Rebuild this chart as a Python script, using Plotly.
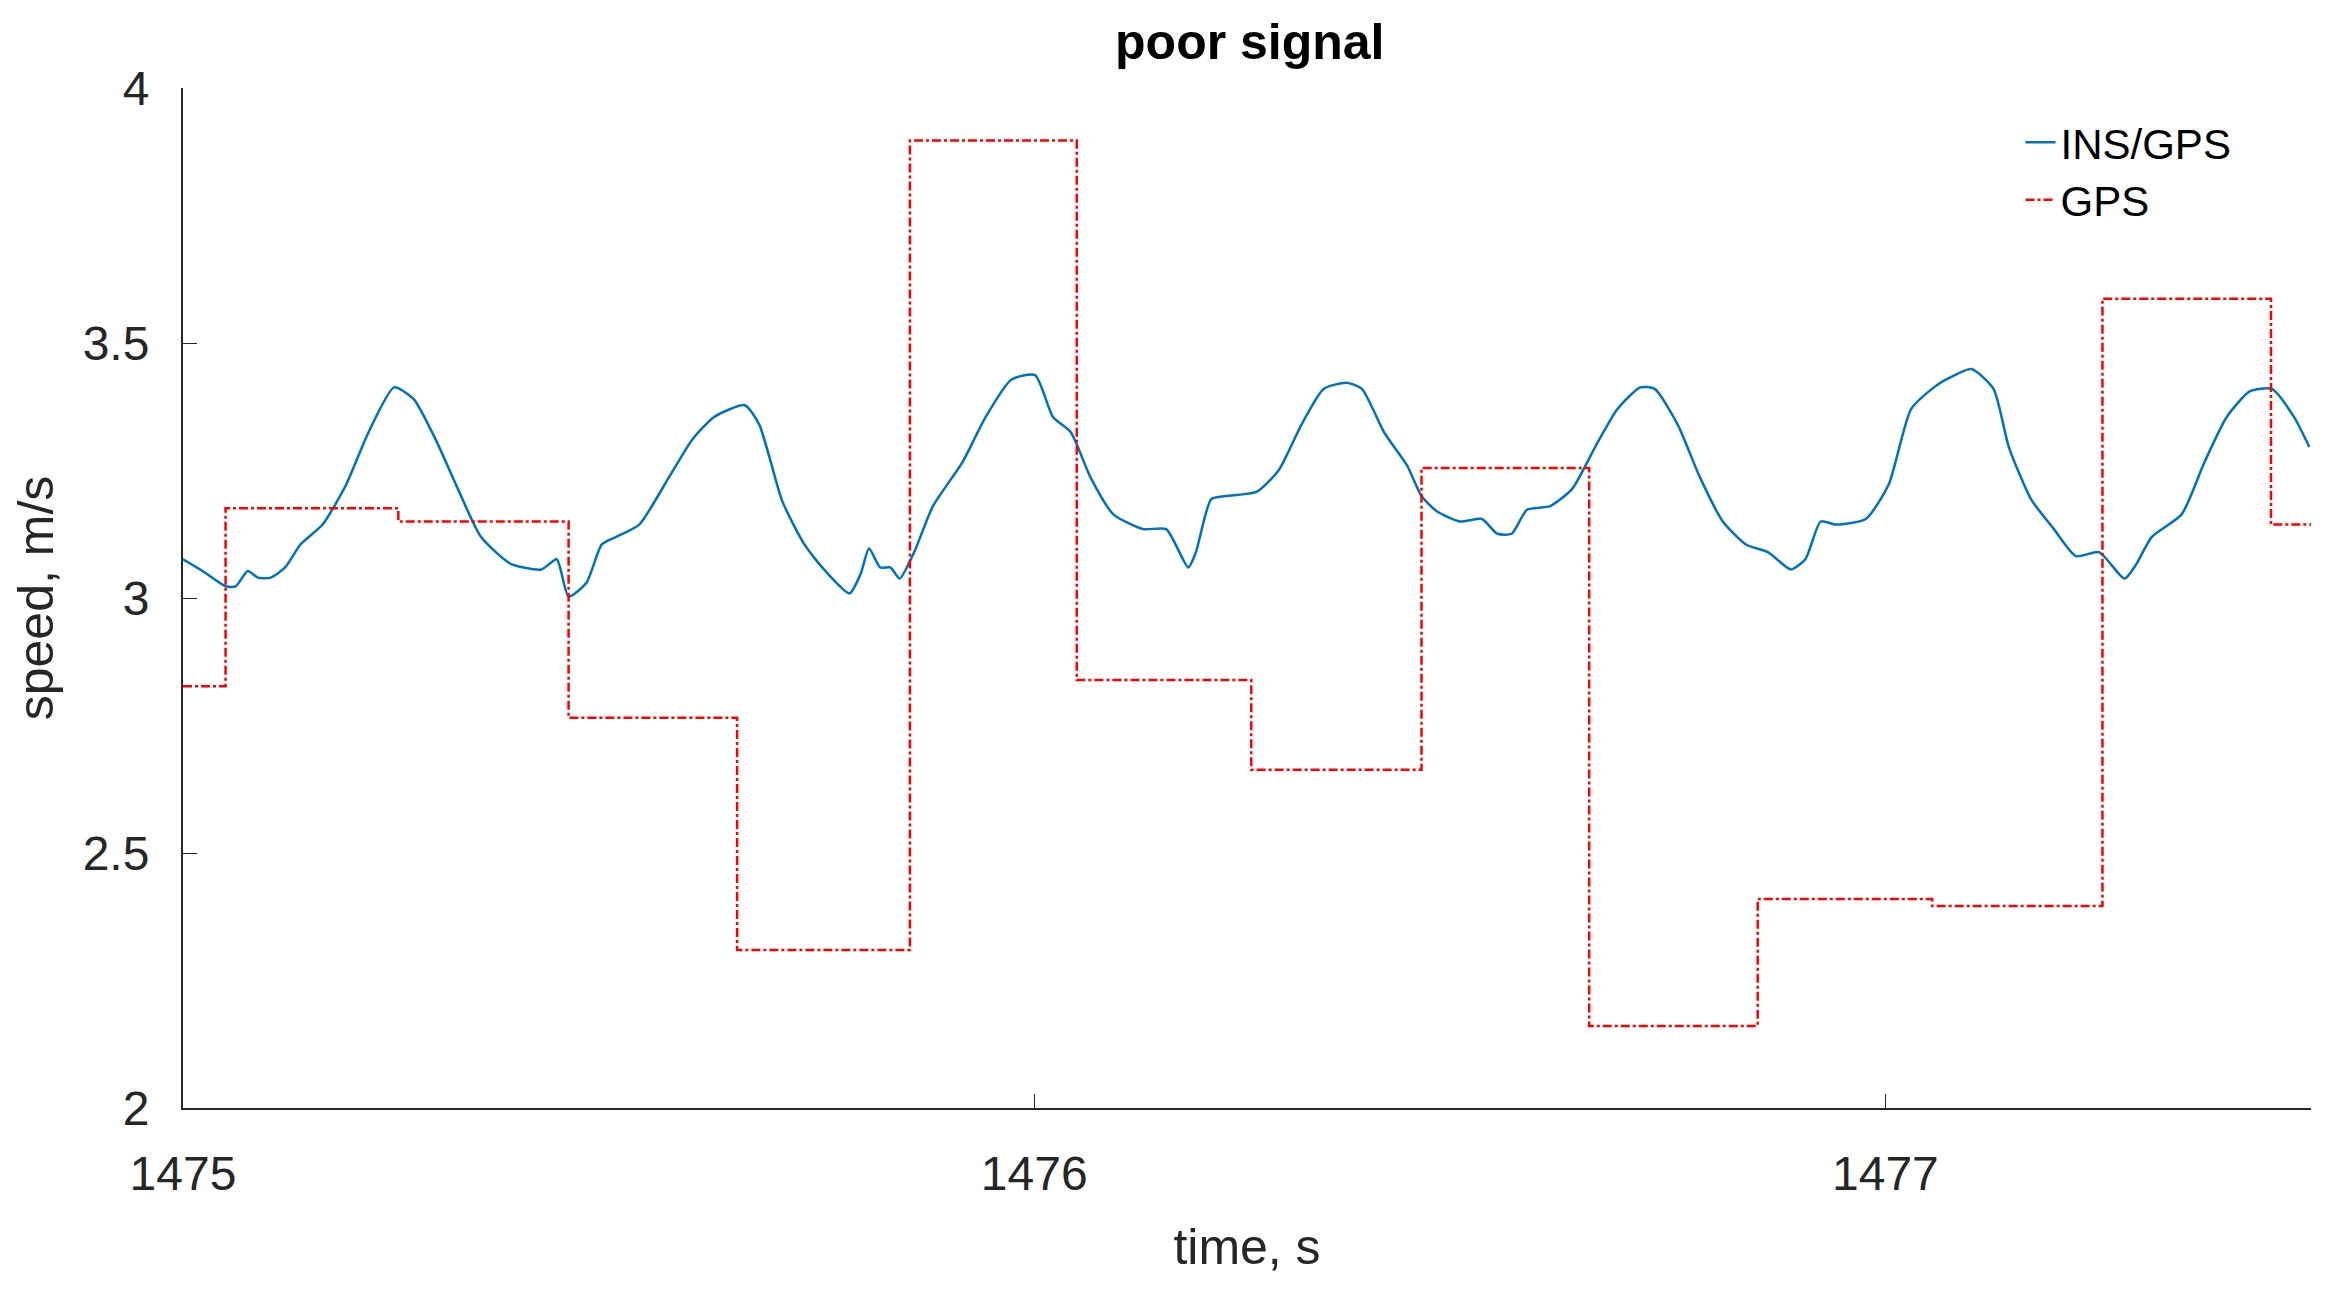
import plotly.graph_objects as go

t0 = 1475
ins_t = [0, .023, .050, .062, .076, .088, .103, .120, .138, .164, .191, .218, .248, .271, .297, .324, .350, .385, .421, .439, .453, .474, .492, .509, .536, .571, .598, .624, .660, .677, .704, .730, .753, .783, .796, .806, .819, .831, .842, .859, .881, .916, .943, .973, 1.001, 1.022, 1.043, 1.066, 1.093, 1.128, 1.155, 1.181, 1.190, 1.208, 1.225, 1.261, 1.287, 1.314, 1.340, 1.367, 1.385, 1.411, 1.438, 1.455, 1.473, 1.500, 1.526, 1.544, 1.561, 1.579, 1.606, 1.632, 1.659, 1.685, 1.712, 1.729, 1.756, 1.782, 1.809, 1.836, 1.862, 1.889, 1.906, 1.924, 1.942, 1.977, 2.004, 2.030, 2.057, 2.071, 2.101, 2.127, 2.145, 2.171, 2.198, 2.224, 2.251, 2.281, 2.295, 2.313, 2.348, 2.375, 2.401, 2.428, 2.454, 2.480, 2.498]
ins_v = [3.076, 3.053, 3.023, 3.023, 3.053, 3.04, 3.04, 3.06, 3.105, 3.144, 3.22, 3.325, 3.413, 3.39, 3.31, 3.21, 3.12, 3.067, 3.056, 3.076, 3.003, 3.03, 3.105, 3.12, 3.144, 3.237, 3.31, 3.355, 3.378, 3.34, 3.19, 3.105, 3.056, 3.009, 3.047, 3.097, 3.06, 3.06, 3.038, 3.09, 3.18, 3.267, 3.355, 3.428, 3.437, 3.355, 3.325, 3.237, 3.164, 3.135, 3.135, 3.06, 3.09, 3.194, 3.2, 3.208, 3.25, 3.34, 3.41, 3.422, 3.41, 3.325, 3.26, 3.2, 3.17, 3.15, 3.155, 3.126, 3.126, 3.173, 3.18, 3.214, 3.296, 3.37, 3.413, 3.41, 3.34, 3.237, 3.15, 3.105, 3.09, 3.056, 3.076, 3.15, 3.144, 3.155, 3.223, 3.37, 3.413, 3.428, 3.449, 3.41, 3.296, 3.194, 3.135, 3.082, 3.09, 3.038, 3.067, 3.12, 3.164, 3.267, 3.355, 3.405, 3.41, 3.355, 3.296]
gps_t = [0, .05, .253, .453, .651, .854, 1.05, 1.255, 1.455, 1.652, 1.85, 2.055, 2.255, 2.453, 2.5]
gps_v = [2.827, 3.176, 3.15, 2.765, 2.31, 3.897, 2.839, 2.663, 3.255, 2.161, 2.41, 2.396, 3.587, 3.144, 3.144]

fig = go.Figure()
fig.add_trace(go.Scatter(x=[t0 + t for t in ins_t], y=ins_v, mode="lines", name="INS/GPS",
                         line=dict(color="#0072BD", width=2.5, shape="spline", smoothing=0.6)))
fig.add_trace(go.Scatter(x=[t0 + t for t in gps_t], y=gps_v, mode="lines", name="GPS",
                         line=dict(color="#FF0000", width=2.5, dash="dashdot", shape="hv")))
fig.update_layout(
    width=2343, height=1303, plot_bgcolor="white", paper_bgcolor="white",
    font=dict(family="Liberation Sans, Arial", size=48, color="#262626"),
    margin=dict(l=175, r=40, t=80, b=203),
    title=dict(text="<b>poor signal</b>", x=0.53, xanchor="center", y=0.988, yanchor="top",
               font=dict(size=50, color="black")),
    legend=dict(x=0.965, y=0.98, xanchor="right", yanchor="top", bgcolor="rgba(0,0,0,0)",
                font=dict(size=42, color="black")),
    xaxis=dict(range=[1475, 1477.5], tickvals=[1475, 1476, 1477], showgrid=False, zeroline=False,
               showline=True, linecolor="#262626", linewidth=2, ticks="inside", ticklen=14,
               tickcolor="#262626", ticklabelstandoff=22,
               title=dict(text="time, s", font=dict(size=50), standoff=30)),
    yaxis=dict(range=[2, 4], tickvals=[2, 2.5, 3, 3.5, 4], ticktext=["2", "2.5", "3", "3.5", "4"],
               showgrid=False, zeroline=False, showline=True, linecolor="#262626", linewidth=2,
               ticks="inside", ticklen=14, tickcolor="#262626", ticklabelstandoff=22,
               title=dict(text="speed, m/s", font=dict(size=50), standoff=15)),
)
fig.write_html("out.html")
